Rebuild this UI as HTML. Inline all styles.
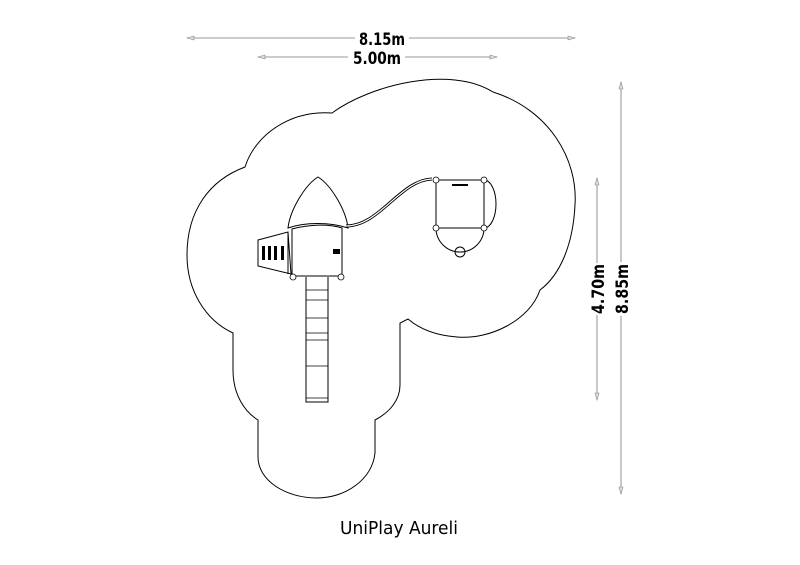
<!DOCTYPE html>
<html><head><meta charset="utf-8"><style>
body{margin:0;background:#fff;}
svg{display:block;}
text{font-family:"DejaVu Sans","Liberation Sans",sans-serif;fill:#000;}
</style></head><body>
<svg width="800" height="565" viewBox="0 0 800 565" xmlns="http://www.w3.org/2000/svg">
<g stroke="#777" stroke-width="0.8" fill="none">
<line x1="187" y1="38" x2="355" y2="38"/><line x1="409" y1="38" x2="575" y2="38"/>
<line x1="258" y1="57" x2="348" y2="57"/><line x1="405" y1="57" x2="497" y2="57"/>
<line x1="621" y1="82" x2="621" y2="262"/><line x1="621" y1="316" x2="621" y2="494"/>
<line x1="597" y1="178" x2="597" y2="263"/><line x1="597" y1="315" x2="597" y2="400"/>
</g>
<g fill="#ddd" stroke="#888" stroke-width="0.6">
<path d="M187,38 l7,-2 v4z"/><path d="M575,38 l-7,-2 v4z"/>
<path d="M258,57 l7,-2 v4z"/><path d="M497,57 l-7,-2 v4z"/>
<path d="M621,82 l-2,7 h4z"/><path d="M621,494 l-2,-7 h4z"/>
<path d="M597,178 l-2,7 h4z"/><path d="M597,400 l-2,-7 h4z"/>
</g>
<text x="359" y="45" font-size="17" font-weight="bold" textLength="46" lengthAdjust="spacingAndGlyphs">8.15m</text>
<text x="353" y="64" font-size="17" font-weight="bold" textLength="48" lengthAdjust="spacingAndGlyphs">5.00m</text>
<text transform="translate(628,314) rotate(-90)" font-size="17" font-weight="bold" textLength="50" lengthAdjust="spacingAndGlyphs">8.85m</text>
<text transform="translate(604,314) rotate(-90)" font-size="17" font-weight="bold" textLength="50" lengthAdjust="spacingAndGlyphs">4.70m</text>
<path fill="none" stroke="#000" stroke-width="1" d="M332,113 C370,85 450,65 493,92 C550,110 578,160 575,205 C573,245 560,275 540,290 C530,320 490,340 457,337 C430,335 415,325 408,319 L400,323 L400,385 C400,400 390,412 375,420 L375,453 C372,480 345,498 317,498 C285,498 258,480 258,457 L258,420 C245,412 233,395 233,370 L233,333 C205,320 187,290 187,255 C187,210 210,180 245,167 C255,135 290,110 332,113 Z"/>
<g fill="none" stroke="#000" stroke-width="1">
<path d="M258,240 L288,232 L291,274 L258,266 Z"/>
<line x1="288" y1="232" x2="288" y2="274"/>
<path d="M288,228 C290,210 305,185 318,177 C331,185 346,210 348,228 C330,222 305,222 288,228 Z"/>
<path d="M292,229 C310,224 330,224 342,228 L342,276 L292,276 Z"/>
<path d="M306,277 V402 H328 V277" />
<g stroke-width="0.8"><line x1="306" y1="290" x2="328" y2="290"/><line x1="306" y1="300" x2="328" y2="300"/><line x1="306" y1="318" x2="328" y2="318"/><line x1="306" y1="333" x2="328" y2="333"/><line x1="306" y1="340" x2="328" y2="340"/><line x1="306" y1="366" x2="328" y2="366"/><line x1="306" y1="398" x2="328" y2="398"/></g>
<path d="M346,226 C380,226 400,180 432,179" stroke-width="3"/>
<path d="M346,226 C380,226 400,180 432,179" stroke="#fff" stroke-width="1.2"/>
<rect x="436" y="180" width="48" height="48"/>
<path d="M436,228 A24,24 0 0 0 484,228"/>
<path d="M484,180 A12,24 0 0 1 484,228"/>
<circle cx="460" cy="252" r="5"/>
</g>
<g fill="#000">
<rect x="262" y="246" width="3" height="14"/><rect x="268" y="246" width="3" height="14"/><rect x="274" y="246" width="3" height="14"/><rect x="281" y="246" width="3" height="14"/>
<rect x="333" y="249" width="7" height="5"/>
<rect x="452" y="184" width="16" height="2"/>
</g>
<g fill="#fff" stroke="#000" stroke-width="0.8">
<circle cx="293" cy="277" r="3"/><circle cx="341" cy="277" r="3"/>
<circle cx="436" cy="180" r="3"/><circle cx="484" cy="180" r="3"/><circle cx="436" cy="228" r="3"/><circle cx="484" cy="228" r="3"/>
</g>
<text x="340" y="534" font-size="18" textLength="118" lengthAdjust="spacingAndGlyphs">UniPlay Aureli</text>
</svg>
</body></html>
